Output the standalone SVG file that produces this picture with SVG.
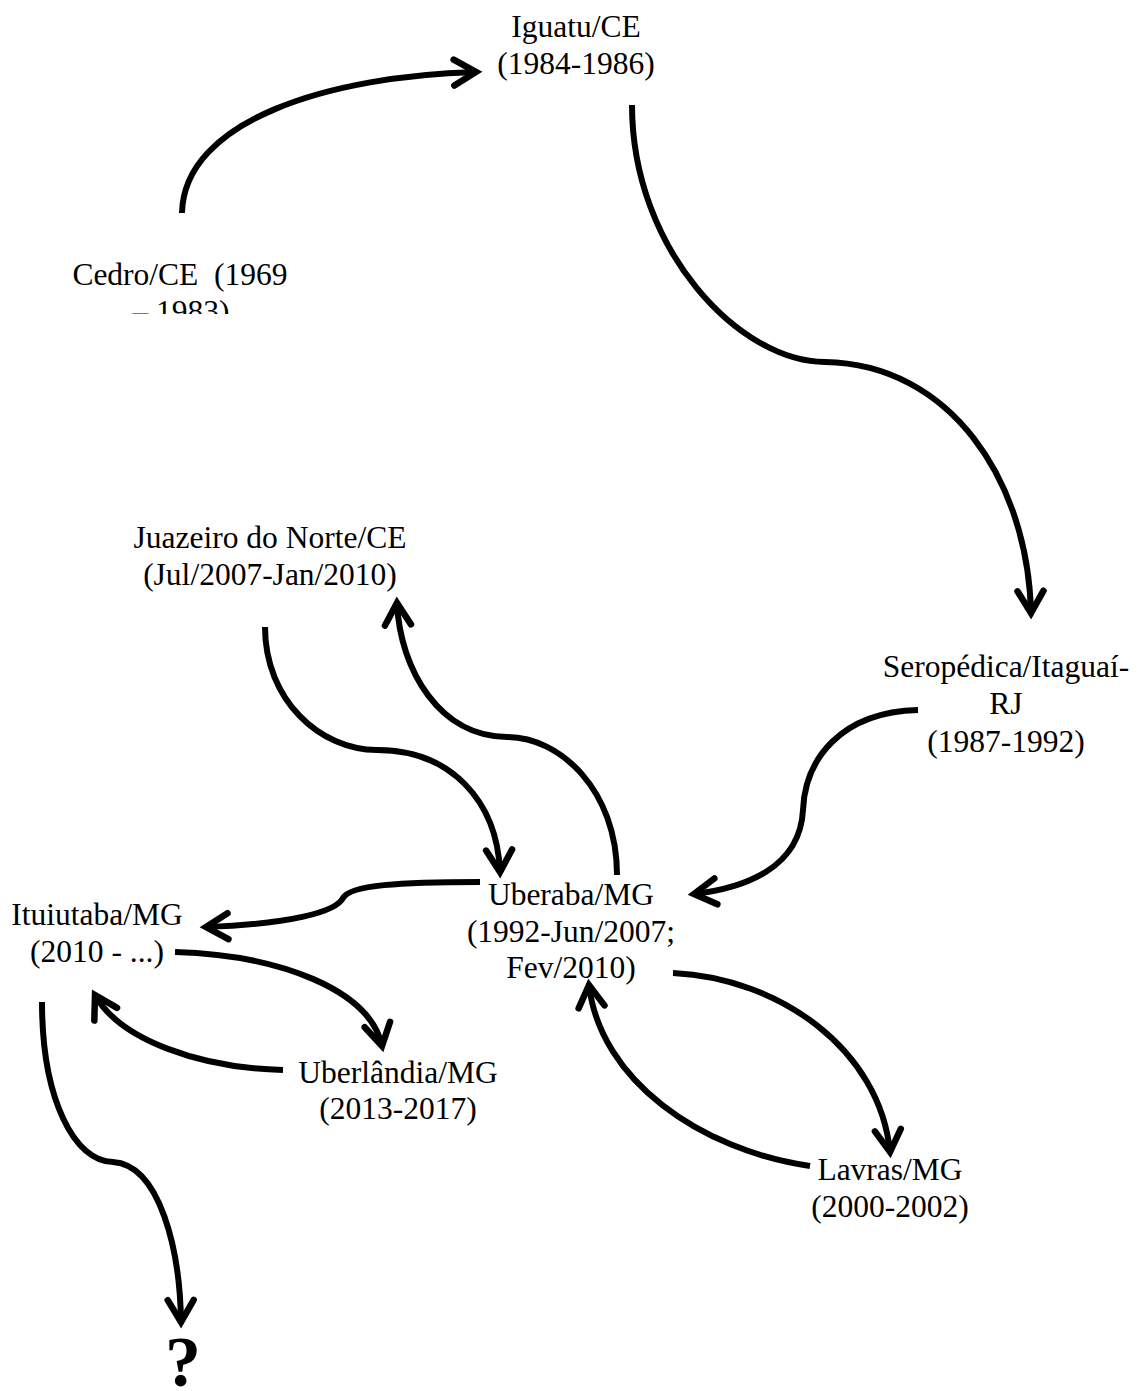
<svg xmlns="http://www.w3.org/2000/svg" width="1138" height="1391" viewBox="0 0 1138 1391">
<defs>
<style>
.t{font-family:"Liberation Serif","Times New Roman",serif;font-size:31.5px;fill:#000;text-anchor:middle}
.q{font-family:"Liberation Serif","Times New Roman",serif;font-size:72px;font-weight:bold;fill:#000;text-anchor:middle}
.c{fill:none;stroke:#000;stroke-width:6}
</style>
<marker id="ah" markerUnits="userSpaceOnUse" markerWidth="40" markerHeight="40" viewBox="-30 -20 40 40" refX="0" refY="0" orient="auto" overflow="visible">
<path d="M-22,-13 L0,0 L-22,13" fill="none" stroke="#000" stroke-width="6.5" stroke-linejoin="miter" stroke-linecap="round"/>
</marker>
<clipPath id="cedroClip"><rect x="0" y="240" width="400" height="74"/></clipPath>
</defs>
<rect width="1138" height="1391" fill="#fff"/>
<g id="connectors">
<path class="c" marker-end="url(#ah)" d="M182,213 C184,120 330,76 476,72"/>
<path class="c" marker-end="url(#ah)" d="M632,105 C632,250 740,362 825,362 C950,364 1028,480 1031,613"/>
<path class="c" marker-end="url(#ah)" d="M918,710 C840,712 805,760 803,810 C800,868 745,888 694,894"/>
<path class="c" marker-end="url(#ah)" d="M265,627 C265,700 320,750 377,750 C450,750 497,800 500,872"/>
<path class="c" marker-end="url(#ah)" d="M617,875 C617,790 560,737 507,737 C440,737 400,670 397,603"/>
<path class="c" marker-end="url(#ah)" d="M480,882 C400,882 350,885 343,898 C336,912 290,924 206,927"/>
<path class="c" marker-end="url(#ah)" d="M175,952 C280,955 370,990 382,1046"/>
<path class="c" marker-end="url(#ah)" d="M283,1070 C200,1068 120,1040 95,995"/>
<path class="c" marker-end="url(#ah)" d="M42,1002 C42,1100 75,1162 113,1162 C160,1165 180,1250 181,1322"/>
<path class="c" marker-end="url(#ah)" d="M673,973 C780,978 880,1050 890,1152"/>
<path class="c" marker-end="url(#ah)" d="M810,1166 C700,1150 600,1080 589,985"/>
</g>
<g id="node-iguatu">
<text class="t" x="576" y="37">Iguatu/CE</text>
<text class="t" x="576" y="74">(1984-1986)</text>
</g>
<g id="node-cedro" clip-path="url(#cedroClip)">
<text class="t" x="180" y="285" xml:space="preserve">Cedro/CE  (1969</text>
<text class="t" x="181" y="322">– 1983)</text>
</g>
<g id="node-juazeiro">
<text class="t" x="270" y="548">Juazeiro do Norte/CE</text>
<text class="t" x="270" y="585">(Jul/2007-Jan/2010)</text>
</g>
<g id="node-seropedica">
<text class="t" x="1006" y="677">Seropédica/Itaguaí-</text>
<text class="t" x="1006" y="714">RJ</text>
<text class="t" x="1006" y="752">(1987-1992)</text>
</g>
<g id="node-uberaba">
<text class="t" x="571" y="905">Uberaba/MG</text>
<text class="t" x="571" y="942">(1992-Jun/2007;</text>
<text class="t" x="571" y="978">Fev/2010)</text>
</g>
<g id="node-ituiutaba">
<text class="t" x="97" y="925">Ituiutaba/MG</text>
<text class="t" x="97" y="962">(2010 - ...)</text>
</g>
<g id="node-uberlandia">
<text class="t" x="398" y="1083">Uberlândia/MG</text>
<text class="t" x="398" y="1119">(2013-2017)</text>
</g>
<g id="node-lavras">
<text class="t" x="890" y="1180">Lavras/MG</text>
<text class="t" x="890" y="1217">(2000-2002)</text>
</g>
<g id="node-question">
<text class="q" x="183" y="1386">?</text>
</g>
</svg>
